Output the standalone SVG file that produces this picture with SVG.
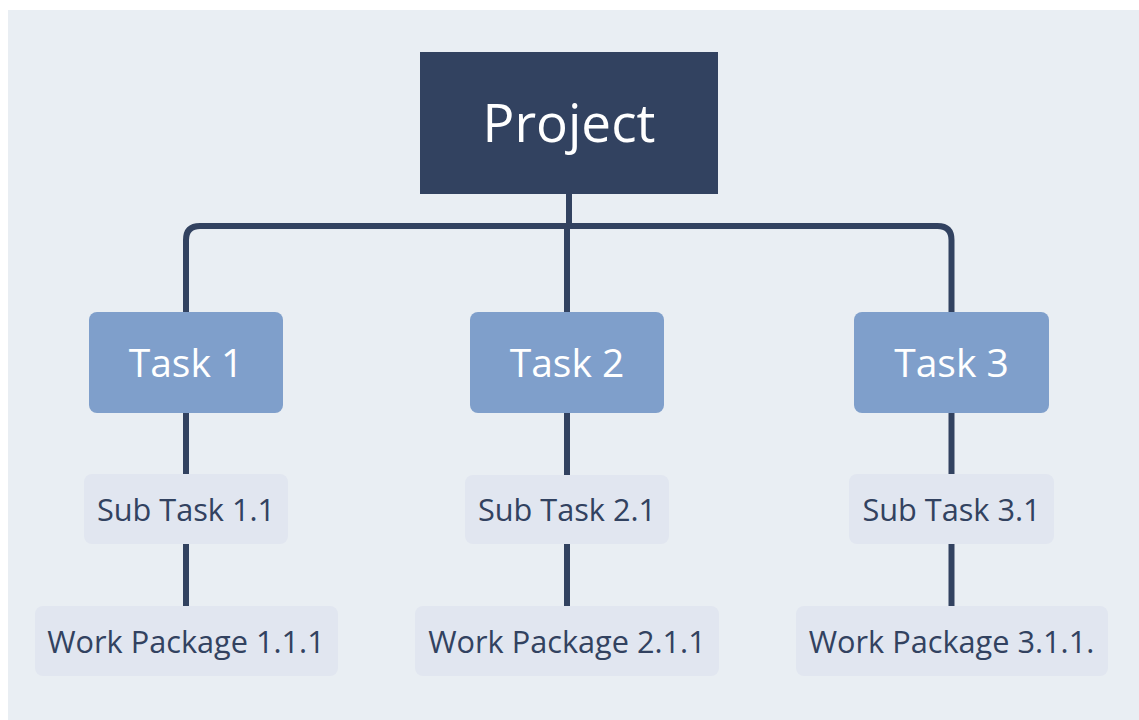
<svg xmlns="http://www.w3.org/2000/svg" width="1139" height="720" viewBox="0 0 1139 720">
<style>
.bg{fill:#ffffff}
.panel{fill:#E9EEF3}
.root{fill:#324260}
.task{fill:#7F9FCB}
.sub{fill:#E1E6F0}
.conn{fill:none;stroke:#324260;stroke-width:6}
text{font-family:"Open Sans","Noto Sans","Liberation Sans",sans-serif;text-anchor:middle}
.t-root{fill:#ffffff;font-size:53px}
.t-task{fill:#ffffff;font-size:39px}
.t-sub{fill:#324260;font-size:30.7px}
</style>
<rect class="bg" x="0" y="0" width="1139" height="720"/>
<rect class="panel" x="8" y="10" width="1131" height="710"/>
<g id="connectors">
<path class="conn" d="M569 194 V226"/>
<path class="conn" d="M186 312 V240 Q186 226 200 226 H937.5 Q951.5 226 951.5 240 V312"/>
<path class="conn" d="M567 226 V312"/>
<path class="conn" d="M186 413 V474"/>
<path class="conn" d="M186 544 V606"/>
<path class="conn" d="M567 413 V475"/>
<path class="conn" d="M567 544 V606"/>
<path class="conn" d="M951.5 413 V474"/>
<path class="conn" d="M951.5 544 V606"/>
</g>
<g id="project">
<rect class="root" x="420" y="52" width="298" height="142"/>
<text class="t-root" x="569" y="142">Project</text>
</g>
<g id="task1">
<rect class="task" x="89" y="312" width="194" height="101" rx="8"/>
<text class="t-task" x="186" y="377">Task 1</text>
</g>
<g id="task2">
<rect class="task" x="470" y="312" width="194" height="101" rx="8"/>
<text class="t-task" x="567" y="377">Task 2</text>
</g>
<g id="task3">
<rect class="task" x="854" y="312" width="195" height="101" rx="8"/>
<text class="t-task" x="951.5" y="377">Task 3</text>
</g>
<g id="sub11">
<rect class="sub" x="84" y="474" width="204" height="70" rx="8"/>
<text class="t-sub" x="186" y="521">Sub Task 1.1</text>
</g>
<g id="sub21">
<rect class="sub" x="465" y="475" width="204" height="69" rx="8"/>
<text class="t-sub" x="567" y="521">Sub Task 2.1</text>
</g>
<g id="sub31">
<rect class="sub" x="849" y="474" width="205" height="70" rx="8"/>
<text class="t-sub" x="951.5" y="521">Sub Task 3.1</text>
</g>
<g id="wp111">
<rect class="sub" x="35" y="606" width="303" height="70" rx="8"/>
<text class="t-sub" x="186" y="653">Work Package 1.1.1</text>
</g>
<g id="wp211">
<rect class="sub" x="415" y="606" width="304" height="70" rx="8"/>
<text class="t-sub" x="567" y="653">Work Package 2.1.1</text>
</g>
<g id="wp311">
<rect class="sub" x="796" y="606" width="312" height="70" rx="8"/>
<text class="t-sub" x="951.5" y="653">Work Package 3.1.1.</text>
</g>
</svg>
